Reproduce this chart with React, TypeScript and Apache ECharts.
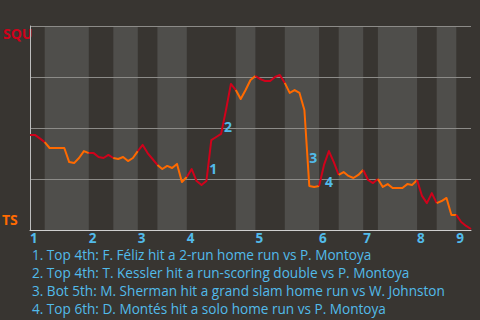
import React, { useEffect, useRef } from 'react';
import * as echarts from 'echarts';

// Teams: top of the y axis (visitors) and bottom (home)
const teamNames = ['SQU', 'TS'];
// Number of plays in each half inning (top 1st, bottom 1st, ... top 9th)
const halfInningPlays = [3, 9, 5, 5, 4, 6, 10, 4, 6, 7, 4, 5, 3, 8, 4, 4, 3];
// Win probability for SQU (%) after each play (index 0 = first pitch)
const winProb = [
  46.6, 46.6, 44.9, 43.1, 40.2, 40.2, 40.2, 40.2, 33.3, 32.8,
  35.3, 38.7, 37.7, 37.7, 35.8, 35.3, 36.8, 35.3, 34.8, 35.8,
  33.8, 35.3, 38.7, 41.7, 37.7, 34.8, 31.9, 29.9, 31.4, 30.4,
  32.4, 23.5, 26.0, 29.9, 24.0, 22.1, 24.0, 44.1, 45.6, 47.1,
  58.8, 71.6, 68.6, 64.2, 68.6, 73.5, 75.5, 74.0, 73.0, 73.0,
  75.0, 76.0, 72.1, 67.2, 68.6, 67.2, 58.8, 21.6, 21.1, 21.6,
  31.9, 38.7, 33.3, 27.0, 28.4, 26.5, 25.5, 27.0, 29.4, 24.5,
  23.0, 25.0, 21.1, 22.5, 20.6, 20.6, 20.6, 22.5, 22.1, 24.5,
  16.7, 13.2, 18.1, 13.2, 14.2, 15.7, 7.4, 7.4, 3.9, 2.0,
  0.5,
];
const inningLabels = ['1', '2', '3', '4', '5', '6', '7', '8', '9'];
// Plays (index into winProb) of the key events
const eventPlays = [37, 41, 57, 61];
const eventNotes = [
  '1. Top 4th: F. Féliz hit a 2-run home run vs P. Montoya',
  '2. Top 4th: T. Kessler hit a run-scoring double vs P. Montoya',
  '3. Bot 5th: M. Sherman hit a grand slam home run vs W. Johnston',
  '4. Top 6th: D. Montés hit a solo home run vs P. Montoya',
];

const RED = '#d0021b';
const ORANGE = '#ff6a00';
const BLUE = '#52bbea';
const BG = '#383531';
const BAND = '#4f4e4b';
const FONT = 'Open Sans';

export default function App() {
  const ref = useRef<HTMLDivElement>(null);
  useEffect(() => {
    if (!ref.current) return;
    const chart = echarts.init(ref.current, null, { renderer: 'svg' });

    const ends: number[] = [];
    let c = 0;
    for (const n of halfInningPlays) { c += n; ends.push(c); }
    const starts = [0, ...ends.slice(0, -1)];
    const inningStarts = starts.filter((_, k) => k % 2 === 0);
    const total = ends[ends.length - 1];

    const halfSeries = halfInningPlays.map((_, k) => ({
      type: 'line',
      data: winProb.slice(starts[k], ends[k] + 1).map((v, j) => [starts[k] + j, v]),
      showSymbol: false,
      silent: true,
      z: 3,
      lineStyle: { width: 2, color: k % 2 === 0 ? RED : ORANGE, join: 'round' },
    }));

    const bands = starts
      .map((s, k) => ({ s, e: ends[k], k }))
      .filter((b) => b.k % 2 === 1)
      .map((b) => [{ xAxis: b.s }, { xAxis: b.e }]);

    const labelOffsets = [[2, 28], [-3, 43], [4, -28], [0, 30]];

    const helper = {
      type: 'line',
      data: winProb.map((v, i) => [i, v]),
      showSymbol: false,
      silent: true,
      lineStyle: { opacity: 0 },
      markArea: {
        silent: true,
        z: -1,
        itemStyle: { color: BAND },
        data: bands,
      },
      markPoint: {
        silent: true,
        symbol: 'circle',
        symbolSize: 1,
        itemStyle: { color: 'rgba(0,0,0,0)' },
        label: {
          show: true,
          position: 'inside',
          color: BLUE,
          fontFamily: FONT,
          fontWeight: 'bold',
          fontSize: 14,
        },
        data: eventPlays.map((p, k) => ({
          coord: [p, winProb[p]],
          label: { formatter: String(k + 1), offset: labelOffsets[k] },
        })),
      },
    };

    chart.setOption({
      animation: false,
      backgroundColor: BG,
      grid: { left: 30, right: 9, top: 26, bottom: 90 },
      xAxis: {
        type: 'value',
        min: 0,
        max: total,
        splitLine: { show: false },
        axisTick: { show: false },
        axisLine: { show: true, onZero: false, lineStyle: { color: '#cfcfcf', width: 1 } },
        axisLabel: {
          customValues: inningStarts,
          formatter: (v: number) => inningLabels[inningStarts.indexOf(v)] ?? '',
          align: 'left',
          margin: 2,
          lineHeight: 11,
          color: BLUE,
          fontFamily: FONT,
          fontWeight: 'bold',
          fontSize: 13.5,
        },
      },
      yAxis: {
        type: 'value',
        min: 0,
        max: 100,
        interval: 25,
        axisLabel: { show: false },
        axisTick: { show: false },
        axisLine: { show: true, lineStyle: { color: '#bdbdbd', width: 1 } },
        splitLine: { show: true, lineStyle: { color: '#8c8b88', width: 1 } },
      },
      series: [helper, ...halfSeries],
      graphic: [
        {
          type: 'text',
          left: 3,
          top: 26,
          style: { text: teamNames[0], fill: RED, font: `bold 14px "${FONT}"` },
        },
        {
          type: 'text',
          left: 2,
          top: 212,
          style: { text: teamNames[1], fill: ORANGE, font: `bold 14px "${FONT}"` },
        },
        ...eventNotes.map((t, k) => ({
          type: 'text',
          x: 32,
          y: 254 + k * 18.1,
          style: {
            text: t,
            fill: BLUE,
            font: `13.6px "${FONT}"`,
            lineHeight: 12,
            verticalAlign: 'middle',
          },
        })),
      ],
    });
    return () => chart.dispose();
  }, []);
  return (
    <div
      ref={ref}
      style={{ position: 'fixed', left: 0, top: 0, width: 480, height: 320 }}
    />
  );
}
